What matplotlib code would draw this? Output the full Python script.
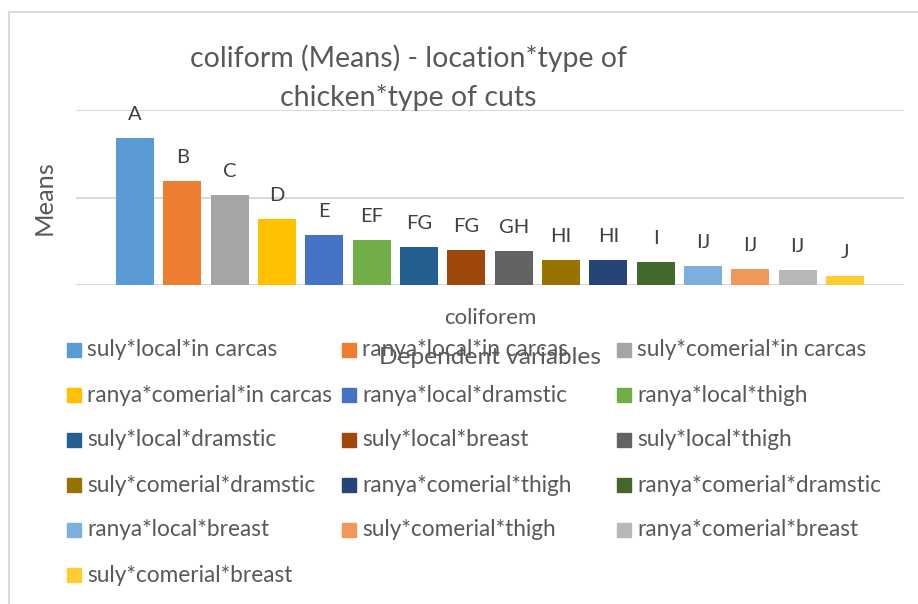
import matplotlib
matplotlib.use("Agg")
import matplotlib.pyplot as plt
from matplotlib.patches import Rectangle

plt.rcParams['font.family'] = ['Lato', 'DejaVu Sans']

# data (axis has no tick labels, so units are relative)
groups = ["suly*local*in carcas", "ranya*local*in carcas", "suly*comerial*in carcas",
          "ranya*comerial*in carcas", "ranya*local*dramstic", "ranya*local*thigh",
          "suly*local*dramstic", "suly*local*breast", "suly*local*thigh",
          "suly*comerial*dramstic", "ranya*comerial*thigh", "ranya*comerial*dramstic",
          "ranya*local*breast", "suly*comerial*thigh", "ranya*comerial*breast",
          "suly*comerial*breast"]
means = [1.683, 1.192, 1.032, 0.758, 0.575, 0.518, 0.438, 0.403,
         0.392, 0.289, 0.289, 0.266, 0.221, 0.186, 0.175, 0.106]
letters = ["A", "B", "C", "D", "E", "EF", "FG", "FG", "GH", "HI", "HI", "I",
           "IJ", "IJ", "IJ", "J"]
colors = ["#5B9BD5", "#ED7D31", "#A5A5A5", "#FFC000", "#4472C4", "#70AD47",
          "#255E91", "#9E480E", "#636363", "#997300", "#264478", "#43682B",
          "#7CAFDD", "#F1975A", "#B7B7B7", "#FFCD33"]

W, H = 918, 604
fig = plt.figure(figsize=(W / 100, H / 100), dpi=100)
txt = "#595959"

# chart frame
fig.patches.append(Rectangle((9 / W, -0.1), 1.2, (H - 11.5) / H + 0.1, transform=fig.transFigure,
                             fill=False, edgecolor="#D9D9D9", linewidth=1.5))

ax = fig.add_axes([76 / W, (H - 285.3) / H, (904 - 76) / W, (285.3 - 110.5) / H])
x = list(range(len(means)))
bars = ax.bar(x, means, width=0.8, color=colors, zorder=3)
for b, lab in zip(bars, letters):
    ax.annotate(lab, (b.get_x() + b.get_width() / 2, b.get_height()), xytext=(0, 18),
                textcoords="offset pixels", ha="center", va="baseline", fontsize=14.5, color="#404040")

ax.set_xlim(-1.245, 16.245)
ax.set_ylim(0, 2)
ax.set_yticks([0, 1, 2])
ax.set_yticklabels([])
ax.grid(axis="y", color="#D9D9D9", linewidth=1.5, zorder=0)
ax.tick_params(length=0)
ax.set_xticks([7.5])
ax.set_xticklabels(["coliforem"], fontsize=16, color=txt)
ax.tick_params(axis="x", pad=16)
for s in ax.spines.values():
    s.set_visible(False)
ax.set_ylabel("Means", fontsize=18.3, color=txt, labelpad=11)
ax.set_xlabel("Dependent variables", fontsize=17.6, color=txt, labelpad=14)

fig.text(408 / W, 1 - 78 / H, "coliform (Means) - location*type of\nchicken*type of cuts",
         ha="center", va="center", multialignment="center", fontsize=20.5, color=txt,
         linespacing=1.54)

# legend, filled row by row like the original
col_x = [67, 342, 617]
for i, (lab, c) in enumerate(zip(groups, colors)):
    r, k = divmod(i, 3)
    yc = 350 + 45 * r
    fig.patches.append(Rectangle((col_x[k] / W, 1 - (yc + 7) / H), 14 / W, 14 / H,
                                 transform=fig.transFigure, color=c))
    fig.text((col_x[k] + 20) / W, 1 - yc / H, lab, ha="left", va="center", fontsize=16.3, color=txt)

fig.savefig("out.png", dpi=100)
